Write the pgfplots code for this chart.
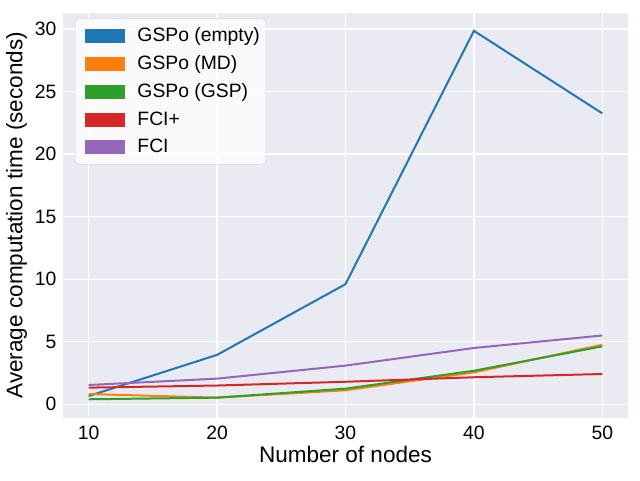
\documentclass[border=0pt]{standalone}
\usepackage{pgfplots}
\pgfplotsset{compat=1.18}
\usepackage{fontspec}
\setmainfont{Liberation Sans}
\definecolor{tabblue}{HTML}{1F77B4}
\definecolor{taborange}{HTML}{FF7F0E}
\definecolor{tabgreen}{HTML}{2CA02C}
\definecolor{tabred}{HTML}{D62728}
\definecolor{tabpurple}{HTML}{9467BD}
\definecolor{sbback}{HTML}{EAEAF2}
\begin{document}
\begin{tikzpicture}
\path[use as bounding box] (-47.25pt,-46.75pt) rectangle (432.75pt,313.25pt);
\begin{axis}[
    scale only axis,
    width=423.75pt, height=303.75pt,
    xmin=8, xmax=52,
    ymin=-1.07, ymax=31.3,
    xtick={10,20,30,40,50},
    ytick={0,5,10,15,20,25,30},
    axis background/.style={fill=sbback},
    axis line style={draw=none},
    major tick length=0pt,
    grid=major,
    grid style={white, line width=0.9pt},
    /pgf/number format/assume math mode=true,
    ticklabel style={font=\fontsize{14.5}{16}\selectfont},
    xticklabel style={yshift=-3pt},
    yticklabel style={xshift=-1.5pt},
    xlabel={Number of nodes},
    ylabel={Average computation time (seconds)},
    label style={font=\fontsize{16.9}{19}\selectfont},
    xlabel style={yshift=2pt},
    ylabel style={yshift=-1pt},
    legend cell align={left},
    legend style={at={(0.021,0.986)}, anchor=north west,
        font=\fontsize{14.5}{16}\selectfont,
        fill=white, fill opacity=0.8, text opacity=1,
        draw=gray!30, rounded corners=3pt,
        row sep=5pt, inner xsep=2.5pt, inner ysep=5pt},
    legend image code/.code={\draw[#1, line width=10.5pt] (0pt,0pt) -- (30pt,0pt);
        \path[draw=none] (0pt,0pt) -- (37pt,0pt);},
    every axis plot/.append style={line width=1.5pt},
]
\addplot[tabblue] coordinates {(10,0.66) (20,3.95) (30,9.6) (40,29.85) (50,23.25)};
\addlegendentry{GSPo (empty)}
\addplot[taborange] coordinates {(10,0.82) (20,0.53) (30,1.12) (40,2.55) (50,4.76)};
\addlegendentry{GSPo (MD)}
\addplot[tabgreen] coordinates {(10,0.4) (20,0.53) (30,1.25) (40,2.68) (50,4.63)};
\addlegendentry{GSPo (GSP)}
\addplot[tabred] coordinates {(10,1.33) (20,1.5) (30,1.8) (40,2.16) (50,2.42)};
\addlegendentry{FCI+}
\addplot[tabpurple] coordinates {(10,1.54) (20,2.05) (30,3.09) (40,4.5) (50,5.5)};
\addlegendentry{FCI}
\end{axis}
\end{tikzpicture}
\end{document}
